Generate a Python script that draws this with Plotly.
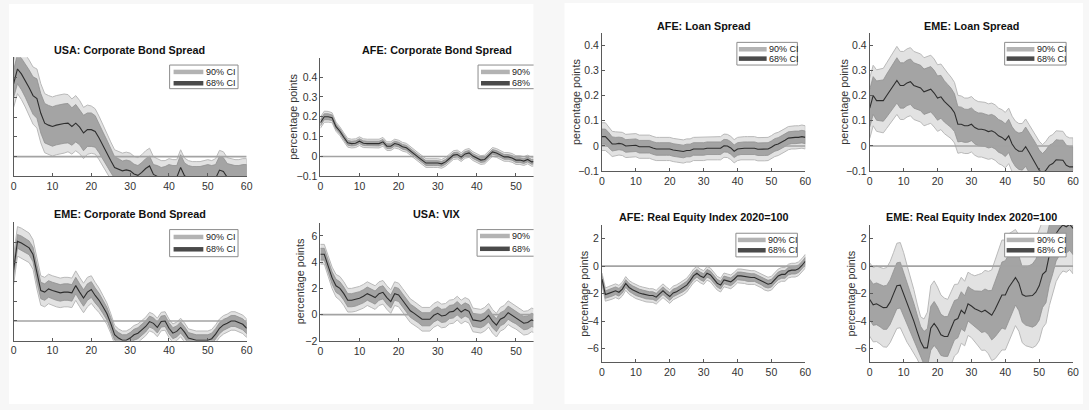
import plotly.graph_objects as go

W, H = 1089, 410

# ---------------- data ----------------
horizon = list(range(61))
x_ticks = [0, 10, 20, 30, 40, 50, 60]

usa_cb_med = [0.37, 0.445, 0.42, 0.387, 0.35, 0.31, 0.295, 0.22, 0.17, 0.16,
              0.153, 0.16, 0.165, 0.168, 0.17, 0.153, 0.17, 0.15, 0.12, 0.137,
              0.137, 0.128, 0.095, 0.055, 0.02, -0.02, -0.055, -0.065, -0.072, -0.067,
              -0.072, -0.088, -0.095, -0.08, -0.06, -0.047, -0.09, -0.1, -0.11, -0.11,
              -0.1, -0.105, -0.105, -0.055, -0.097, -0.11, -0.115, -0.12, -0.12, -0.115,
              -0.11, -0.115, -0.11, -0.068, -0.075, -0.105, -0.11, -0.115, -0.115, -0.11,
              -0.11]
usa_cb_hw68 = [0.07, 0.075, 0.08, 0.085, 0.09, 0.095, 0.1, 0.1, 0.1, 0.1,
               0.1, 0.1, 0.1, 0.1, 0.1, 0.095, 0.095, 0.09, 0.09, 0.085,
               0.085, 0.08, 0.075, 0.07, 0.065, 0.06, 0.055, 0.055, 0.05, 0.05,
               0.05, 0.05, 0.05, 0.05, 0.05, 0.05, 0.05, 0.055, 0.055, 0.06,
               0.06, 0.06, 0.06, 0.065, 0.065, 0.065, 0.065, 0.07, 0.07, 0.07,
               0.07, 0.07, 0.07, 0.07, 0.07, 0.07, 0.07, 0.07, 0.07, 0.07,
               0.07]
usa_cb_hw90 = [0.12, 0.125, 0.13, 0.135, 0.14, 0.145, 0.15, 0.15, 0.15, 0.15,
               0.15, 0.15, 0.15, 0.15, 0.145, 0.14, 0.14, 0.135, 0.13, 0.125,
               0.12, 0.115, 0.11, 0.105, 0.1, 0.095, 0.09, 0.09, 0.09, 0.09,
               0.09, 0.09, 0.09, 0.09, 0.09, 0.09, 0.09, 0.09, 0.09, 0.09,
               0.09, 0.09, 0.09, 0.09, 0.09, 0.09, 0.09, 0.095, 0.095, 0.095,
               0.095, 0.095, 0.1, 0.1, 0.1, 0.1, 0.1, 0.1, 0.1, 0.1,
               0.1]

afe_cb_med = [0.17, 0.2, 0.2, 0.195, 0.15, 0.127, 0.097, 0.069, 0.065, 0.067,
              0.077, 0.067, 0.065, 0.065, 0.065, 0.065, 0.074, 0.052, 0.052, 0.065,
              0.06, 0.049, 0.044, 0.027, 0.013, -0.003, -0.018, -0.033, -0.033, -0.033,
              -0.033, -0.037, -0.027, -0.01, 0.007, 0.01, -0.003, 0.013, 0.018, 0.002,
              -0.007, -0.018, -0.015, 0.002, 0.023, 0.018, 0.01, -0.002, -0.002, -0.007,
              -0.018, -0.018, -0.023, -0.015, -0.027, -0.025, -0.025, -0.02, -0.025, -0.022,
              -0.025]
afe_cb_hw68 = [0.015, 0.015, 0.015, 0.014, 0.013, 0.012, 0.012, 0.012, 0.012, 0.012,
               0.012, 0.012, 0.012, 0.012, 0.012, 0.012, 0.012, 0.012, 0.012, 0.012,
               0.012, 0.012, 0.012, 0.012, 0.012, 0.012, 0.012, 0.012, 0.012, 0.012,
               0.012, 0.012, 0.012, 0.012, 0.012, 0.012, 0.012, 0.012, 0.012, 0.012,
               0.012, 0.012, 0.012, 0.012, 0.012, 0.012, 0.012, 0.012, 0.012, 0.012,
               0.012, 0.012, 0.012, 0.012, 0.012, 0.012, 0.012, 0.012, 0.012, 0.012,
               0.012]
afe_cb_hw90 = [0.028, 0.028, 0.027, 0.025, 0.023, 0.022, 0.022, 0.022, 0.022, 0.022,
               0.022, 0.022, 0.022, 0.022, 0.022, 0.022, 0.022, 0.022, 0.022, 0.022,
               0.022, 0.022, 0.022, 0.022, 0.022, 0.022, 0.022, 0.022, 0.022, 0.022,
               0.022, 0.022, 0.022, 0.022, 0.022, 0.022, 0.022, 0.022, 0.022, 0.022,
               0.022, 0.022, 0.022, 0.022, 0.022, 0.022, 0.022, 0.022, 0.022, 0.022,
               0.022, 0.022, 0.022, 0.022, 0.022, 0.022, 0.022, 0.022, 0.022, 0.022,
               0.022]

eme_cb_med = [0.26, 0.405, 0.397, 0.383, 0.372, 0.338, 0.238, 0.155, 0.147, 0.163,
              0.155, 0.147, 0.143, 0.147, 0.147, 0.143, 0.18, 0.147, 0.117, 0.147,
              0.16, 0.13, 0.105, 0.072, 0.038, -0.012, -0.07, -0.087, -0.098, -0.098,
              -0.087, -0.07, -0.062, -0.045, -0.028, -0.003, -0.012, -0.033, -0.003, 0.0,
              -0.037, -0.062, -0.053, -0.033, -0.057, -0.087, -0.092, -0.098, -0.098, -0.098,
              -0.098, -0.09, -0.067, -0.037, -0.02, -0.012, 0.0, 0.0, -0.007, -0.017,
              -0.037]
eme_cb_hw68 = [0.035, 0.035, 0.035, 0.035, 0.035, 0.037, 0.04, 0.042, 0.042, 0.042,
               0.042, 0.042, 0.042, 0.042, 0.042, 0.042, 0.042, 0.042, 0.042, 0.042,
               0.04, 0.038, 0.036, 0.034, 0.032, 0.03, 0.028, 0.028, 0.028, 0.028,
               0.028, 0.028, 0.028, 0.028, 0.028, 0.028, 0.028, 0.028, 0.028, 0.028,
               0.028, 0.028, 0.028, 0.028, 0.028, 0.028, 0.028, 0.028, 0.028, 0.028,
               0.028, 0.028, 0.028, 0.028, 0.028, 0.028, 0.028, 0.028, 0.028, 0.028,
               0.028]
eme_cb_hw90 = [0.075, 0.075, 0.075, 0.075, 0.075, 0.075, 0.075, 0.075, 0.075, 0.075,
               0.075, 0.075, 0.075, 0.075, 0.075, 0.075, 0.075, 0.075, 0.075, 0.075,
               0.07, 0.066, 0.062, 0.058, 0.054, 0.05, 0.048, 0.047, 0.047, 0.047,
               0.047, 0.047, 0.047, 0.047, 0.047, 0.047, 0.047, 0.047, 0.047, 0.047,
               0.047, 0.047, 0.047, 0.047, 0.047, 0.047, 0.047, 0.047, 0.047, 0.047,
               0.047, 0.047, 0.047, 0.047, 0.047, 0.047, 0.047, 0.047, 0.047, 0.047,
               0.047]

usa_vix_med = [4.6, 4.6, 3.7, 2.8, 2.2, 2.0, 1.6, 1.1, 1.1, 1.15,
               1.25, 1.4, 1.6, 1.45, 1.3, 1.6, 1.7, 1.3, 1.0, 1.6,
               1.5, 1.1, 0.7, 0.3, 0.1, -0.1, -0.35, -0.35, -0.35, -0.05,
               0.1, -0.1, -0.05, 0.2, 0.25, 0.5, 0.2, 0.4, 0.25, -0.4,
               -0.45, -0.5, -0.35, -0.05, -0.5, -0.8, -0.35, -0.2, 0.15, -0.05,
               -0.2, -0.4, -0.65, -0.6, -0.4, -0.5, -0.5, -0.45, -0.5, -0.5,
               -0.5]
usa_vix_hw68 = [0.45, 0.45, 0.45, 0.47, 0.5, 0.5, 0.5, 0.5, 0.5, 0.5,
                0.5, 0.5, 0.5, 0.5, 0.5, 0.5, 0.5, 0.5, 0.5, 0.5,
                0.5, 0.5, 0.5, 0.5, 0.5, 0.5, 0.5, 0.5, 0.5, 0.5,
                0.5, 0.5, 0.5, 0.5, 0.5, 0.5, 0.5, 0.5, 0.5, 0.5,
                0.5, 0.5, 0.5, 0.5, 0.5, 0.5, 0.5, 0.5, 0.5, 0.5,
                0.5, 0.5, 0.5, 0.5, 0.5, 0.5, 0.5, 0.5, 0.5, 0.5,
                0.5]
usa_vix_hw90 = [0.75, 0.75, 0.78, 0.82, 0.86, 0.9, 0.9, 0.9, 0.9, 0.9,
                0.9, 0.9, 0.9, 0.9, 0.9, 0.9, 0.9, 0.9, 0.9, 0.9,
                0.9, 0.9, 0.9, 0.9, 0.9, 0.9, 0.9, 0.9, 0.9, 0.9,
                0.9, 0.9, 0.9, 0.9, 0.9, 0.9, 0.9, 0.9, 0.9, 0.9,
                0.9, 0.9, 0.9, 0.9, 0.9, 0.9, 0.9, 0.9, 0.9, 0.9,
                0.9, 0.9, 0.9, 0.9, 0.9, 0.9, 0.9, 0.9, 0.9, 0.9,
                0.9]

afe_loan_med = [0.037, 0.037, 0.023, 0.008, 0.008, 0.01, 0.008, 0.0, 0.001, 0.003,
                0.003, -0.003, -0.003, -0.003, -0.003, -0.008, -0.012, -0.012, -0.012, -0.012,
                -0.012, -0.016, -0.018, -0.021, -0.022, -0.018, -0.018, -0.012, -0.012, -0.012,
                -0.012, -0.009, -0.009, -0.009, -0.009, -0.009, 0.001, 0.0, -0.008, -0.021,
                -0.012, -0.009, -0.009, -0.009, -0.009, -0.009, -0.013, -0.013, -0.013, -0.012,
                -0.005, 0.004, 0.008, 0.014, 0.023, 0.031, 0.034, 0.034, 0.034, 0.037,
                0.034]
afe_loan_hw68 = [0.03, 0.03, 0.03, 0.028, 0.026, 0.025, 0.025, 0.025, 0.025, 0.025,
                 0.025, 0.025, 0.025, 0.025, 0.025, 0.025, 0.025, 0.025, 0.025, 0.025,
                 0.025, 0.025, 0.025, 0.025, 0.025, 0.025, 0.025, 0.025, 0.025, 0.025,
                 0.025, 0.025, 0.025, 0.025, 0.025, 0.025, 0.025, 0.025, 0.025, 0.025,
                 0.025, 0.025, 0.025, 0.025, 0.025, 0.025, 0.025, 0.025, 0.025, 0.025,
                 0.025, 0.025, 0.025, 0.025, 0.025, 0.025, 0.025, 0.025, 0.025, 0.025,
                 0.025]
afe_loan_hw90 = [0.055, 0.055, 0.052, 0.05, 0.048, 0.046, 0.046, 0.046, 0.046, 0.046,
                 0.046, 0.046, 0.046, 0.046, 0.046, 0.046, 0.046, 0.046, 0.046, 0.046,
                 0.046, 0.046, 0.046, 0.046, 0.046, 0.046, 0.046, 0.046, 0.046, 0.046,
                 0.046, 0.046, 0.046, 0.046, 0.046, 0.046, 0.046, 0.046, 0.046, 0.046,
                 0.046, 0.046, 0.046, 0.046, 0.046, 0.046, 0.046, 0.046, 0.046, 0.046,
                 0.046, 0.046, 0.046, 0.046, 0.046, 0.046, 0.046, 0.046, 0.046, 0.046,
                 0.046]

eme_loan_med = [0.15, 0.2, 0.18, 0.18, 0.18, 0.2, 0.22, 0.24, 0.26, 0.24,
                0.24, 0.25, 0.255, 0.24, 0.235, 0.23, 0.215, 0.22, 0.225, 0.21,
                0.19, 0.195, 0.177, 0.164, 0.151, 0.132, 0.086, 0.086, 0.08, 0.08,
                0.086, 0.073, 0.066, 0.066, 0.063, 0.057, 0.06, 0.053, 0.04, 0.034,
                0.023, 0.04, 0.008, -0.012, -0.021, -0.021, -0.003, -0.025, -0.047, -0.07,
                -0.096, -0.11, -0.096, -0.077, -0.07, -0.055, -0.057, -0.057, -0.077, -0.083,
                -0.083]
eme_loan_hw68 = [0.075, 0.075, 0.078, 0.08, 0.082, 0.085, 0.088, 0.09, 0.09, 0.09,
                 0.09, 0.09, 0.09, 0.09, 0.09, 0.09, 0.09, 0.09, 0.09, 0.09,
                 0.088, 0.085, 0.082, 0.08, 0.078, 0.075, 0.07, 0.068, 0.066, 0.065,
                 0.065, 0.065, 0.065, 0.065, 0.065, 0.065, 0.065, 0.065, 0.065, 0.065,
                 0.065, 0.066, 0.068, 0.07, 0.072, 0.075, 0.078, 0.08, 0.08, 0.08,
                 0.08, 0.08, 0.08, 0.08, 0.08, 0.08, 0.08, 0.08, 0.08, 0.08,
                 0.08]
eme_loan_hw90 = [0.12, 0.12, 0.122, 0.125, 0.128, 0.13, 0.132, 0.135, 0.135, 0.135,
                 0.135, 0.135, 0.135, 0.135, 0.135, 0.135, 0.135, 0.135, 0.135, 0.135,
                 0.132, 0.13, 0.128, 0.125, 0.122, 0.12, 0.115, 0.112, 0.11, 0.11,
                 0.11, 0.11, 0.11, 0.11, 0.11, 0.11, 0.11, 0.11, 0.11, 0.11,
                 0.11, 0.11, 0.11, 0.11, 0.11, 0.11, 0.11, 0.11, 0.11, 0.11,
                 0.115, 0.115, 0.115, 0.115, 0.115, 0.115, 0.115, 0.115, 0.115, 0.115,
                 0.115]

afe_eq_med = [-0.95, -2.07, -1.98, -1.9, -1.79, -1.9, -1.67, -1.26, -1.55, -1.71,
              -1.86, -1.95, -2.02, -2.1, -2.14, -2.14, -2.26, -2.02, -1.79, -2.02,
              -2.21, -1.95, -1.86, -1.71, -1.57, -1.38, -1.07, -0.71, -0.52, -0.71,
              -0.83, -0.52, -0.64, -0.95, -1.24, -1.38, -1.0, -1.07, -1.14, -0.95,
              -0.71, -0.71, -0.76, -0.83, -0.83, -0.83, -0.95, -1.07, -1.24, -1.31,
              -1.24, -0.95, -0.71, -0.6, -0.6, -0.36, -0.29, -0.29, -0.19, 0.05,
              0.36]
afe_eq_hw68 = [0.25, 0.27, 0.28, 0.28, 0.28, 0.28, 0.28, 0.28, 0.28, 0.28,
               0.28, 0.28, 0.28, 0.28, 0.28, 0.28, 0.28, 0.28, 0.28, 0.28,
               0.28, 0.28, 0.28, 0.28, 0.28, 0.28, 0.28, 0.28, 0.28, 0.28,
               0.28, 0.28, 0.28, 0.28, 0.28, 0.28, 0.28, 0.28, 0.28, 0.28,
               0.28, 0.28, 0.28, 0.28, 0.28, 0.28, 0.28, 0.28, 0.28, 0.28,
               0.28, 0.28, 0.28, 0.28, 0.28, 0.28, 0.28, 0.28, 0.28, 0.28,
               0.28]
afe_eq_hw90 = [0.45, 0.48, 0.5, 0.5, 0.5, 0.5, 0.5, 0.5, 0.5, 0.5,
               0.5, 0.5, 0.5, 0.5, 0.5, 0.5, 0.5, 0.5, 0.5, 0.5,
               0.5, 0.5, 0.5, 0.5, 0.5, 0.5, 0.5, 0.5, 0.5, 0.5,
               0.5, 0.5, 0.5, 0.5, 0.5, 0.5, 0.5, 0.5, 0.5, 0.5,
               0.5, 0.5, 0.5, 0.5, 0.5, 0.5, 0.5, 0.5, 0.5, 0.5,
               0.5, 0.5, 0.5, 0.5, 0.5, 0.5, 0.5, 0.5, 0.5, 0.5,
               0.5]

eme_eq_med = [-2.43, -2.81, -2.74, -2.86, -3.02, -3.0, -2.62, -2.02, -1.43, -1.38,
              -2.02, -2.74, -3.33, -4.0, -4.76, -5.48, -5.95, -5.95, -4.52, -4.17,
              -4.52, -5.0, -5.12, -5.12, -4.52, -3.93, -3.81, -3.21, -3.45, -2.74,
              -2.9, -3.1, -3.21, -3.33, -3.21, -3.38, -3.57, -3.14, -2.62, -2.1,
              -2.1, -1.55, -1.19, -0.83, -1.24, -2.07, -2.19, -2.19, -2.14, -1.9,
              -1.43, -0.6, -0.36, 0.83, 1.55, 2.38, 2.74, 3.0, 2.86, 3.05,
              2.74]
eme_eq_hw68 = [1.48, 1.5, 1.52, 1.55, 1.58, 1.6, 1.62, 1.65, 1.67, 1.67,
               1.6, 1.5, 1.4, 1.3, 1.2, 1.1, 1.2, 1.4, 1.6, 1.6,
               1.55, 1.5, 1.45, 1.45, 1.45, 1.43, 1.4, 1.35, 1.3, 1.25,
               1.23, 1.3, 1.4, 1.5, 1.55, 1.6, 1.8, 2.0, 2.2, 2.4,
               2.5, 2.4, 2.2, 2.0, 2.0, 2.0, 2.1, 2.2, 2.3, 2.4,
               2.5, 2.4, 2.3, 2.2, 2.1, 2.0, 1.95, 1.9, 1.9, 1.9,
               1.9]
eme_eq_hw90 = [2.67, 2.7, 2.75, 2.8, 2.85, 2.9, 2.95, 3.0, 3.1, 3.1,
               3.0, 2.8, 2.6, 2.3, 2.0, 1.8, 2.1, 2.6, 3.1, 3.1,
               3.0, 2.9, 2.8, 2.7, 2.65, 2.6, 2.5, 2.4, 2.35, 2.3,
               2.3, 2.4, 2.6, 2.8, 2.9, 3.0, 3.3, 3.6, 3.8, 4.0,
               4.0, 3.9, 3.7, 3.5, 3.5, 3.5, 3.6, 3.7, 3.8, 3.9,
               4.0, 3.9, 3.8, 3.7, 3.6, 3.5, 3.4, 3.35, 3.3, 3.3,
               3.3]

titles = ["USA: Corporate Bond Spread", "AFE: Corporate Bond Spread",
          "EME: Corporate Bond Spread", "USA: VIX",
          "AFE: Loan Spread", "EME: Loan Spread",
          "AFE: Real Equity Index 2020=100", "EME: Real Equity Index 2020=100"]
y_label = "percentage points"
ci_labels_full = ["90% CI", "68% CI"]
ci_labels_cut = ["90%", "68%"]

# ---------------- layout spec (pixels) ----------------
FONT = "Liberation Sans, Arial, Helvetica, sans-serif"
BG = "#f7f7f7"
C_90 = "#e2e2e2"
C_90_EDGE = "#b9b9b9"
C_68 = "#a4a4a4"
C_68_EDGE = "#909090"
C_MED = "#2e2e2e"
C_ZERO = "#a3a3a3"
C_AX = "#5a5a5a"

panels = [
    dict(med=usa_cb_med, h68=usa_cb_hw68, h90=usa_cb_hw90, xd=(10.7, 245.7), yd=(58, 179),
         xr=[0, 60], yr=[-0.1, 0.505], yt=[-0.1, 0, 0.1, 0.2, 0.3, 0.4, 0.5], ytl=False,
         tx=128, ty=51, ylx=None, leg=(168, 66, 237, 90), legy=(73, 84.5), legline=(172, 202),
         labs=ci_labels_full),
    dict(med=afe_cb_med, h68=afe_cb_hw68, h90=afe_cb_hw90, xd=(320, 535), yd=(59, 179),
         xr=[0, 54.5], yr=[-0.1, 0.495], yt=[-0.1, 0, 0.1, 0.2, 0.3, 0.4], ytl=True,
         tx=438, ty=51, ylx=293, leg=(479, 66, 545, 90), legy=(73, 84.5), legline=(482, 511),
         labs=ci_labels_cut),
    dict(med=eme_cb_med, h68=eme_cb_hw68, h90=eme_cb_hw90, xd=(10.7, 245.7), yd=(225, 345.7),
         xr=[0, 60], yr=[-0.1, 0.505], yt=[-0.1, 0, 0.1, 0.2, 0.3, 0.4, 0.5], ytl=False,
         tx=128, ty=217, ylx=None, leg=(168, 233, 237, 260.5), legy=(240.5, 253), legline=(172, 202),
         labs=ci_labels_full),
    dict(med=usa_vix_med, h68=usa_vix_hw68, h90=usa_vix_hw90, xd=(320, 535), yd=(226, 346),
         xr=[0, 54.5], yr=[-2, 7], yt=[-2, 0, 2, 4, 6], ytl=True,
         tx=438, ty=217, ylx=299, leg=(478, 233, 545, 260), legy=(239.5, 252.5), legline=(481, 511),
         labs=ci_labels_cut),
    dict(med=afe_loan_med, h68=afe_loan_hw68, h90=afe_loan_hw90, xd=(604, 809), yd=(33, 173.7),
         xr=[0, 60], yr=[-0.1, 0.45], yt=[-0.1, 0, 0.1, 0.2, 0.3, 0.4], ytl=True,
         tx=706.5, ty=26, ylx=578, leg=(740, 43, 801, 66), legy=(50, 59.5), legline=(742, 770),
         labs=ci_labels_full),
    dict(med=eme_loan_med, h68=eme_loan_hw68, h90=eme_loan_hw90, xd=(874, 1079), yd=(33, 173.7),
         xr=[0, 60], yr=[-0.1, 0.45], yt=[-0.1, 0, 0.1, 0.2, 0.3, 0.4], ytl=True,
         tx=976.5, ty=26, ylx=848, leg=(1010, 43, 1072, 66), legy=(50, 59.5), legline=(1012, 1040),
         labs=ci_labels_full),
    dict(med=afe_eq_med, h68=afe_eq_hw68, h90=afe_eq_hw90, xd=(604, 809), yd=(228.3, 367.7),
         xr=[0, 60], yr=[-7, 3], yt=[-6, -4, -2, 0, 2], ytl=True,
         tx=706.5, ty=220.5, ylx=585, leg=(739, 236.7, 801, 260.7), legy=(243.5, 254), legline=(741, 769),
         labs=ci_labels_full),
    dict(med=eme_eq_med, h68=eme_eq_hw68, h90=eme_eq_hw90, xd=(874, 1079), yd=(228.3, 367.7),
         xr=[0, 60], yr=[-7, 3], yt=[-6, -4, -2, 0, 2], ytl=True,
         tx=976.5, ty=220.5, ylx=855, leg=(1010, 236.7, 1072, 260.7), legy=(243.5, 254), legline=(1012, 1040),
         labs=ci_labels_full),
]


def px(x):
    return x / W


def py(y):
    return 1 - y / H


fig = go.Figure()
layout = dict(
    width=W, height=H, margin=dict(l=0, r=0, t=0, b=0),
    paper_bgcolor=BG, plot_bgcolor="rgba(0,0,0,0)",
    showlegend=False, font=dict(family=FONT, color="#333"),
)
shapes = [
    dict(type="rect", xref="paper", yref="paper", x0=px(6), x1=px(535), y0=0, y1=py(4),
         fillcolor="white", line=dict(width=0), layer="below"),
    dict(type="rect", xref="paper", yref="paper", x0=px(566), x1=1, y0=0, y1=py(3),
         fillcolor="white", line=dict(width=0), layer="below"),
]
annotations = []

for i, p in enumerate(panels, start=1):
    sfx = "" if i == 1 else str(i)
    xa, ya = "x" + sfx, "y" + sfx
    upper90 = [m + h for m, h in zip(p["med"], p["h90"])]
    lower90 = [m - h for m, h in zip(p["med"], p["h90"])]
    upper68 = [m + h for m, h in zip(p["med"], p["h68"])]
    lower68 = [m - h for m, h in zip(p["med"], p["h68"])]
    fig.add_trace(go.Scatter(x=horizon + horizon[::-1], y=upper90 + lower90[::-1],
                             fill="toself", fillcolor=C_90, mode="lines",
                             line=dict(color=C_90_EDGE, width=1), xaxis=xa, yaxis=ya,
                             hoverinfo="skip"))
    fig.add_trace(go.Scatter(x=horizon + horizon[::-1], y=upper68 + lower68[::-1],
                             fill="toself", fillcolor=C_68, mode="lines",
                             line=dict(color=C_68_EDGE, width=0.8), xaxis=xa, yaxis=ya,
                             hoverinfo="skip"))
    fig.add_trace(go.Scatter(x=[horizon[0], horizon[-1]], y=[0, 0], mode="lines",
                             line=dict(color=C_ZERO, width=1.6), xaxis=xa, yaxis=ya,
                             hoverinfo="skip"))
    fig.add_trace(go.Scatter(x=horizon, y=p["med"], mode="lines",
                             line=dict(color=C_MED, width=1.1), xaxis=xa, yaxis=ya))

    layout["xaxis" + sfx] = dict(
        domain=[px(p["xd"][0]), px(p["xd"][1])], range=p["xr"], anchor=ya,
        showline=True, linecolor=C_AX, linewidth=1, ticks="inside", ticklen=3,
        tickcolor=C_AX, tickvals=x_ticks, tickfont=dict(size=10.5, color="#333", family=FONT),
        showgrid=False, zeroline=False, fixedrange=True)
    layout["yaxis" + sfx] = dict(
        domain=[py(p["yd"][1]), py(p["yd"][0])], range=p["yr"], anchor=xa,
        showline=True, linecolor=C_AX, linewidth=1, ticks="inside", ticklen=3,
        tickcolor=C_AX, tickvals=p["yt"], showticklabels=p["ytl"],
        tickfont=dict(size=10.5, color="#333", family=FONT),
        showgrid=False, zeroline=False, fixedrange=True)

    annotations.append(dict(x=px(p["tx"]), y=py(p["ty"]), xref="paper", yref="paper",
                            text="<b>" + titles[i - 1] + "</b>", showarrow=False,
                            xanchor="center", yanchor="middle",
                            font=dict(size=10.8, color="#111", family=FONT)))
    if p["ylx"] is not None:
        annotations.append(dict(x=px(p["ylx"]), y=py((p["yd"][0] + p["yd"][1]) / 2),
                                xref="paper", yref="paper", text=y_label, textangle=-90,
                                showarrow=False, xanchor="center", yanchor="middle",
                                font=dict(size=10.8, color="#333", family=FONT)))
    # legend box
    lx0, ly0, lx1, ly1 = p["leg"]
    shapes.append(dict(type="rect", xref="paper", yref="paper", x0=px(lx0), x1=px(lx1),
                       y0=py(ly1), y1=py(ly0), fillcolor="white",
                       line=dict(color="#8c8c8c", width=1), layer="above"))
    for k, (col, yy) in enumerate(zip(["#b3b3b3", "#4a4a4a"], p["legy"])):
        shapes.append(dict(type="line", xref="paper", yref="paper",
                           x0=px(p["legline"][0]), x1=px(p["legline"][1]),
                           y0=py(yy), y1=py(yy), line=dict(color=col, width=4.5), layer="above"))
        annotations.append(dict(x=px(p["legline"][1] + 0.5), y=py(yy), xref="paper", yref="paper",
                                text=p["labs"][k], showarrow=False, xanchor="left",
                                yanchor="middle", font=dict(size=9, color="#222", family=FONT)))

# gray strip between the two images (covers the cropped legend boxes)
shapes.append(dict(type="rect", xref="paper", yref="paper", x0=px(535), x1=px(566), y0=0, y1=1,
                   fillcolor=BG, line=dict(width=0), layer="above"))
shapes.append(dict(type="rect", xref="paper", yref="paper", x0=0, x1=1, y0=py(3), y1=1,
                   fillcolor=BG, line=dict(width=0), layer="above"))

layout["shapes"] = shapes
layout["annotations"] = annotations
fig.update_layout(**layout)
fig.write_html(
    "out.html",
    config={"displayModeBar": False, "staticPlot": True},
    post_script="document.body.style.margin='0';document.body.style.overflow='hidden';"
                "document.body.style.background='" + BG + "';",
)
